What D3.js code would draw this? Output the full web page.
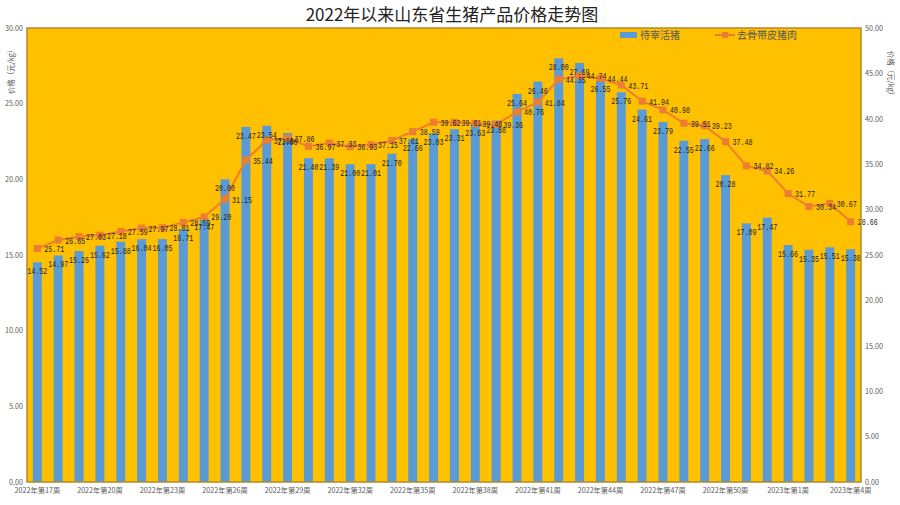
<!DOCTYPE html>
<html>
<head>
<meta charset="utf-8">
<script src="https://cdn.jsdelivr.net/npm/d3@7"></script>
<style>
body{margin:0;background:#fff;}
svg{display:block;font-family:"Noto Sans CJK SC","Noto Sans",sans-serif;}
</style>
</head>
<body>
<svg id="chart" width="900" height="505"></svg>
<script>
// 周次
let weeks=[];
for(let w=17;w<=52;w++) weeks.push("2022年第"+w+"周");
for(let w=1;w<=4;w++) weeks.push("2023年第"+w+"周");

// 待宰活猪 (左轴)
let livePig=[14.52,14.97,15.26,15.62,15.88,16.04,16.05,16.71,17.47,20.00,
  23.47,23.54,23.06,21.40,21.39,21.00,21.01,21.70,22.66,23.03,
  23.31,23.63,23.88,25.64,26.46,28.00,27.69,26.55,25.76,24.61,
  23.79,22.55,22.66,20.28,17.09,17.47,15.66,15.35,15.51,15.38];

// 去骨带皮猪肉 (右轴)
let pork=[25.71,26.65,27.03,27.18,27.59,27.97,28.01,28.59,29.20,31.15,
  35.44,37.66,37.86,36.97,37.33,36.93,37.15,37.61,38.59,39.62,
  39.61,39.48,39.36,40.76,41.84,44.35,44.74,44.44,43.71,41.94,
  40.98,39.51,39.23,37.48,34.82,34.26,31.77,30.34,30.67,28.66];

let leftTicks=[0,5,10,15,20,25,30];
let rightTicks=[0,5,10,15,20,25,30,35,40,45,50];

let margin={top:28,right:39,bottom:23,left:27},
  width=900,height=505;

let svg=d3.select("#chart");

let xScale=d3.scaleBand().domain(weeks).range([margin.left,width-margin.right]).paddingInner(0.57).paddingOuter(0.28);
let yLeft=d3.scaleLinear().domain([0,30]).range([height-margin.bottom,margin.top]);
let yRight=d3.scaleLinear().domain([0,50]).range([height-margin.bottom,margin.top]);

// 背景
svg.append("rect")
  .attr("x",margin.left).attr("y",margin.top)
  .attr("width",width-margin.left-margin.right)
  .attr("height",height-margin.top-margin.bottom)
  .attr("fill","#FFC000");

// 柱
svg.append("g").selectAll("rect")
  .data(livePig)
  .enter().append("rect")
  .attr("x",function(d,i){return xScale(weeks[i])})
  .attr("width",xScale.bandwidth())
  .attr("y",function(d){return yLeft(d)})
  .attr("height",function(d){return yLeft(0)-yLeft(d)})
  .attr("fill","#5B9BD5");

// 折线
let porkLine=d3.line()
  .x(function(d,i){return xScale(weeks[i])+xScale.bandwidth()/2})
  .y(function(d){return yRight(d)});

svg.append("path")
  .datum(pork)
  .attr("fill","none")
  .attr("stroke","#ED7D31")
  .attr("stroke-width",2)
  .attr("d",porkLine);

svg.append("g").selectAll("rect")
  .data(pork)
  .enter().append("rect")
  .attr("x",function(d,i){return xScale(weeks[i])+xScale.bandwidth()/2-3.5})
  .attr("y",function(d){return yRight(d)-3.5})
  .attr("width",7).attr("height",7)
  .attr("fill","#ED7D31");

// 数据标签
svg.append("g").selectAll("text")
  .data(livePig)
  .enter().append("text")
  .attr("x",function(d,i){return xScale(weeks[i])+xScale.bandwidth()/2-10})
  .attr("y",function(d){return yLeft(d)+12})
  .attr("font-family","'Liberation Mono',monospace")
  .attr("font-size",9)
  .attr("textLength",20)
  .attr("lengthAdjust","spacingAndGlyphs")
  .attr("fill","#222")
  .text(function(d){return d.toFixed(2)});

svg.append("g").selectAll("text")
  .data(pork)
  .enter().append("text")
  .attr("x",function(d,i){return xScale(weeks[i])+xScale.bandwidth()/2+7})
  .attr("y",function(d){return yRight(d)+3.5})
  .attr("font-family","'Liberation Mono',monospace")
  .attr("font-size",9)
  .attr("textLength",20)
  .attr("lengthAdjust","spacingAndGlyphs")
  .attr("fill","#222")
  .text(function(d){return d.toFixed(2)});

// 边框
svg.append("rect")
  .attr("x",margin.left).attr("y",margin.top)
  .attr("width",width-margin.left-margin.right)
  .attr("height",height-margin.top-margin.bottom)
  .attr("fill","none")
  .attr("stroke","#B08A2A")
  .attr("stroke-width",1.5);

// 坐标轴
let leftAxis=svg.append("g")
  .attr("transform","translate("+margin.left+",0)")
  .call(d3.axisLeft(yLeft).tickValues(leftTicks).tickSize(0).tickPadding(4).tickFormat(d3.format(".2f")));
let rightAxis=svg.append("g")
  .attr("transform","translate("+(width-margin.right)+",0)")
  .call(d3.axisRight(yRight).tickValues(rightTicks).tickSize(0).tickPadding(4).tickFormat(d3.format(".2f")));
let xAxis=svg.append("g")
  .attr("transform","translate(0,"+(height-margin.bottom)+")")
  .call(d3.axisBottom(xScale).tickValues(weeks.filter(function(d,i){return i%3==0})).tickSize(0).tickPadding(6));

[leftAxis,rightAxis,xAxis].forEach(function(a){
  a.select(".domain").remove();
  a.selectAll("text").attr("font-size",7.2).attr("fill","#595959")
    .attr("font-family","'Noto Sans CJK SC',sans-serif");
});

// 轴标题
svg.append("text")
  .attr("transform","translate(14,70) rotate(-90)")
  .attr("text-anchor","middle")
  .attr("font-size",7.5).attr("fill","#595959")
  .text("价格（元/kg）");
svg.append("text")
  .attr("transform","translate(888,75) rotate(90)")
  .attr("text-anchor","middle")
  .attr("font-size",7.5).attr("fill","#595959")
  .text("价格（元/kg）");

// 标题
svg.append("text")
  .attr("x",452).attr("y",21)
  .attr("text-anchor","middle")
  .attr("font-size",17)
  .attr("fill","#222")
  .text("2022年以来山东省生猪产品价格走势图");

// 图例
let legend=svg.append("g");
legend.append("rect")
  .attr("x",620).attr("y",32).attr("width",17).attr("height",6)
  .attr("fill","#5B9BD5");
legend.append("text")
  .attr("x",640).attr("y",39).attr("font-size",10).attr("fill","#595959")
  .text("待宰活猪");
legend.append("line")
  .attr("x1",715).attr("x2",735).attr("y1",35).attr("y2",35)
  .attr("stroke","#ED7D31").attr("stroke-width",2);
legend.append("rect")
  .attr("x",722).attr("y",32).attr("width",6).attr("height",6)
  .attr("fill","#ED7D31");
legend.append("text")
  .attr("x",737).attr("y",39).attr("font-size",10).attr("fill","#595959")
  .text("去骨带皮猪肉");
</script>
</body>
</html>
